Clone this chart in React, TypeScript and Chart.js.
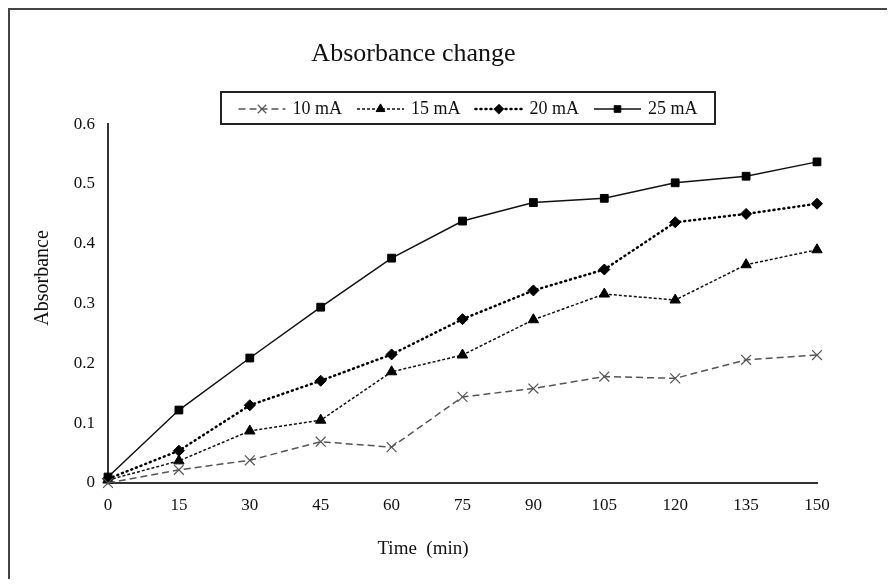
import React, { useEffect, useRef } from "react";
import { Chart, registerables } from "chart.js";
import { drawPoint } from "chart.js/helpers";

Chart.register(...registerables);

const times = [0, 15, 30, 45, 60, 75, 90, 105, 120, 135, 150];
const ma10 = [0, 0.022, 0.038, 0.069, 0.06, 0.144, 0.158, 0.178, 0.175, 0.206, 0.214];
const ma15 = [0.005, 0.037, 0.087, 0.105, 0.186, 0.214, 0.273, 0.316, 0.306, 0.365, 0.39];
const ma20 = [0.007, 0.054, 0.13, 0.171, 0.215, 0.274, 0.322, 0.357, 0.436, 0.45, 0.467];
const ma25 = [0.01, 0.122, 0.209, 0.294, 0.376, 0.438, 0.469, 0.476, 0.502, 0.513, 0.537];
const seriesNames = ["10 mA", "15 mA", "20 mA", "25 mA"];

const FONT = "'Liberation Serif', 'Times New Roman', serif";

const legendPlugin = {
  id: "boxLegend",
  afterDraw(chart: any) {
    const ctx = chart.ctx;
    const bx = 211, by = 82, bw = 494, bh = 32;
    ctx.save();
    ctx.setLineDash([]);
    ctx.lineWidth = 2;
    ctx.strokeStyle = "#222";
    ctx.strokeRect(bx, by, bw, bh);
    ctx.font = "18px " + FONT;
    ctx.textBaseline = "middle";
    const sampleW = 47, gap = 7, itemGap = 15;
    const ds = chart.data.datasets;
    const widths = ds.map((d: any) => ctx.measureText(d.label).width);
    let total = 0;
    widths.forEach((w: number) => (total += sampleW + gap + w));
    total += itemGap * (ds.length - 1);
    let x = bx + (bw - total) / 2;
    const cy = by + bh / 2 + 1;
    ds.forEach((d: any, i: number) => {
      ctx.save();
      ctx.strokeStyle = d.borderColor;
      ctx.lineWidth = d.borderWidth;
      ctx.lineCap = d.borderCapStyle || "butt";
      ctx.setLineDash(d.borderDash || []);
      ctx.beginPath();
      ctx.moveTo(x, cy);
      ctx.lineTo(x + sampleW, cy);
      ctx.stroke();
      ctx.setLineDash([]);
      ctx.fillStyle = d.pointBackgroundColor;
      ctx.strokeStyle = d.pointBorderColor;
      ctx.lineWidth = d.pointBorderWidth;
      drawPoint(ctx, { pointStyle: d.pointStyle, radius: d.pointRadius * 0.85, rotation: 0, borderWidth: d.pointBorderWidth }, x + sampleW / 2, cy);
      ctx.restore();
      ctx.fillStyle = "#111";
      ctx.textAlign = "left";
      ctx.fillText(d.label, x + sampleW + gap, cy);
      x += sampleW + gap + widths[i] + itemGap;
    });
    ctx.restore();
  },
};

const axisTitlePlugin = {
  id: "axisTitles",
  afterDraw(chart: any) {
    const ctx = chart.ctx;
    ctx.save();
    ctx.fillStyle = "#111";
    ctx.textAlign = "center";
    ctx.textBaseline = "middle";
    ctx.font = "19px " + FONT;
    ctx.fillText("Time  (min)", 413, 539);
    ctx.translate(33, 268);
    ctx.rotate(-Math.PI / 2);
    ctx.font = "20px " + FONT;
    ctx.fillText("Absorbance", 0, 0);
    ctx.restore();
  },
};

export default function App() {
  const ref = useRef<HTMLCanvasElement>(null);
  useEffect(() => {
    if (!ref.current) return;
    Chart.defaults.font.family = FONT;
    const chart = new Chart(ref.current, {
      type: "line",
      data: {
        labels: times.map(String),
        datasets: [
          {
            label: seriesNames[0],
            data: ma10,
            borderColor: "#555",
            borderWidth: 1.5,
            borderDash: [7, 4],
            pointStyle: "crossRot",
            pointRadius: 7,
            pointBorderColor: "#555",
            pointBackgroundColor: "#555",
            pointBorderWidth: 1.2,
            clip: false,
          },
          {
            label: seriesNames[1],
            data: ma15,
            borderColor: "#111",
            borderWidth: 1.5,
            borderDash: [3, 2],
            pointStyle: "triangle",
            pointRadius: 6,
            pointBorderColor: "#000",
            pointBackgroundColor: "#000",
            pointBorderWidth: 1,
            clip: false,
          },
          {
            label: seriesNames[2],
            data: ma20,
            borderColor: "#000",
            borderWidth: 2.5,
            borderDash: [1, 4],
            borderCapStyle: "round",
            pointStyle: "rectRot",
            pointRadius: 5.5,
            pointBorderColor: "#000",
            pointBackgroundColor: "#000",
            pointBorderWidth: 1,
            clip: false,
          },
          {
            label: seriesNames[3],
            data: ma25,
            borderColor: "#111",
            borderWidth: 1.5,
            pointStyle: "rect",
            pointRadius: 5.5,
            pointBorderColor: "#000",
            pointBackgroundColor: "#000",
            pointBorderWidth: 1,
            clip: false,
          },
        ] as any,
      },
      options: {
        animation: false,
        responsive: false,
        maintainAspectRatio: false,
        layout: { padding: { left: 0, right: 70, top: 0, bottom: 0 } },
        plugins: {
          legend: { display: false },
          tooltip: { enabled: false },
          title: {
            display: true,
            text: "Absorbance change",
            color: "#111",
            font: { size: 26, family: FONT, weight: "normal" },
            padding: { top: 29, bottom: 54 },
          },
        },
        scales: {
          x: {
            type: "category",
            offset: false,
            grid: { display: false, drawTicks: false },
            border: { display: true, color: "#333", width: 2 },
            ticks: { color: "#111", font: { size: 17, family: FONT }, padding: 12, maxRotation: 0, autoSkip: false },
            afterFit: (s: any) => { s.height = 96; },
          },
          y: {
            min: 0,
            max: 0.6,
            grid: { display: false, drawTicks: false },
            border: { display: true, color: "#333", width: 2 },
            ticks: { stepSize: 0.1, color: "#111", font: { size: 17, family: FONT }, padding: 13 },
            afterFit: (s: any) => { s.width = 98; },
          },
        },
      } as any,
      plugins: [legendPlugin, axisTitlePlugin],
    });
    return () => chart.destroy();
  }, []);
  return (
    <div style={{ width: 879, height: 571, borderTop: "2px solid #444", borderLeft: "2px solid #444", boxSizing: "border-box", background: "#fff" }}>
      <canvas ref={ref} width={877} height={569} style={{ display: "block", width: 877, height: 569 }} />
    </div>
  );
}
